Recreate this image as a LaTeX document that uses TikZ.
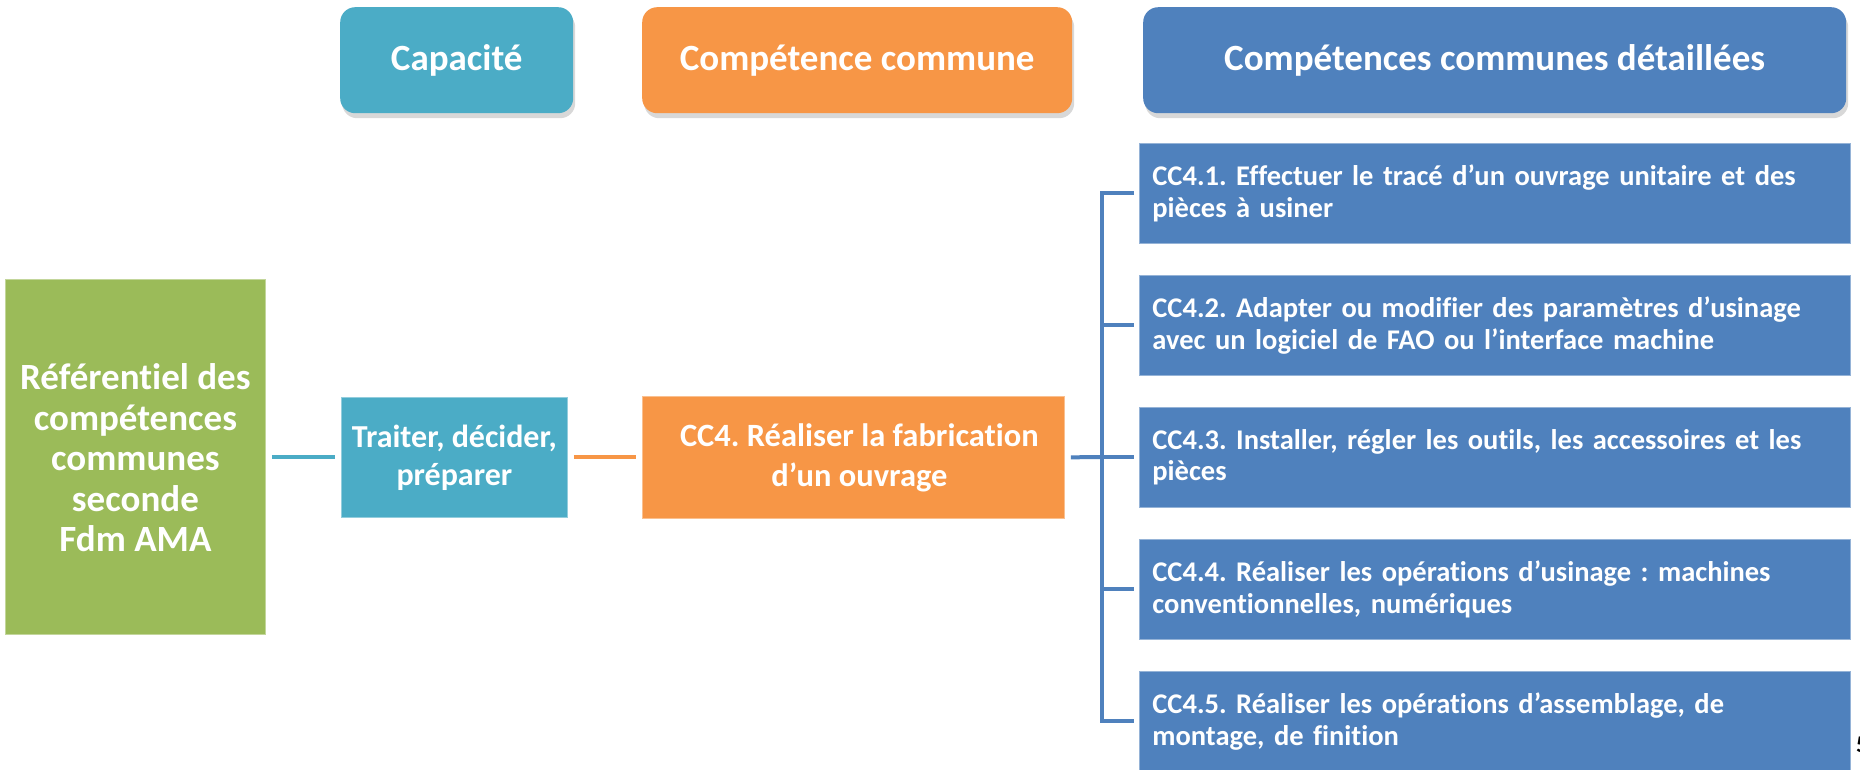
\documentclass[tikz,border=0pt]{standalone}
\usepackage{fontspec}
\setmainfont{Carlito}[Ligatures=NoCommon]
\usetikzlibrary{shadows}
\frenchspacing
\definecolor{cteal}{HTML}{4BACC6}
\definecolor{corange}{HTML}{F79646}
\definecolor{cblue}{HTML}{4F81BD}
\definecolor{cgreen}{HTML}{9BBB59}
\tikzset{
  hdr/.style={rounded corners=15pt, inner sep=0pt, anchor=north west, text=white,
    font=\fontsize{37}{46}\selectfont\bfseries,
    drop shadow={opacity=0.3, shadow xshift=2pt, shadow yshift=-5pt}},
  plainbox/.style={inner sep=0pt, anchor=north west, line width=0.8pt},
  boxtext/.style={inner sep=0pt, text=white, align=center},
  detail/.style={fill=cblue, draw=cblue!60!white, line width=0.8pt, inner xsep=13pt, inner ysep=0pt,
    anchor=north west, text=white, align=left, text width=685pt,
    minimum width=711pt, minimum height=100pt,
    font=\fontsize{28.5}{31.5}\selectfont\bfseries},
  conn/.style={line width=4pt, line cap=butt, line join=miter},
}
\begin{document}
\begin{tikzpicture}[x=1pt, y=-1pt]
\useasboundingbox (0,0) rectangle (1860,769);
\clip (0,0) rectangle (1860,769);
\fill[white] (0,0) rectangle (1860,769);

% headers
\node[hdr, fill=cteal, minimum width=233pt, minimum height=106pt] (h1) at (340,7) {Capacité};
\node[hdr, fill=corange, minimum width=430pt, minimum height=106pt] (h2) at (642,7) {Compétence commune};
\node[hdr, fill=cblue, minimum width=703pt, minimum height=106pt] (h3) at (1143,7) {Compétences communes détaillées};

% main chain
\node[plainbox, fill=cgreen, draw=cgreen!60!white, minimum width=260pt, minimum height=355pt] (ref) at (5,279) {};
\node[boxtext, font=\fontsize{37}{40.5}\selectfont\bfseries] (reftxt) at ([yshift=-1pt]ref.center)
  {Référentiel des\\compétences\\communes\\seconde\\Fdm AMA};
\node[plainbox, fill=cteal, draw=cteal!60!white, minimum width=226pt, minimum height=120pt] (cap) at (341,397) {};
\node[boxtext, font=\fontsize{32}{38}\selectfont\bfseries] (captxt) at (cap.center)
  {Traiter, décider,\\préparer};
\node[plainbox, fill=corange, draw=corange!60!white, minimum width=422pt, minimum height=122pt] (cc) at (642,396) {};
\node[boxtext, font=\fontsize{32.5}{40}\selectfont\bfseries] (cctxt) at ([xshift=6pt]cc.center)
  {CC4. Réaliser la fabrication\\d’un ouvrage};

% detailed boxes
\node[detail] (b1) at (1139,143) {CC4.1. Effectuer le tracé d’un ouvrage unitaire et des\\pièces à usiner};
\node[detail] (b2) at (1139,275) {CC4.2. Adapter ou modifier des paramètres d’usinage\\avec un logiciel de FAO ou l’interface machine};
\node[detail] (b3) at (1139,407) {CC4.3. Installer, régler les outils, les accessoires et les\\pièces};
\node[detail] (b4) at (1139,539) {CC4.4. Réaliser les opérations d’usinage : machines\\conventionnelles, numériques};
\node[detail] (b5) at (1139,671) {CC4.5. Réaliser les opérations d’assemblage, de\\montage, de finition};

% connectors
\draw[conn, cteal, shorten <=6pt, shorten >=6pt] (ref.east |- cap.west) -- (cap.west);
\draw[conn, corange, shorten <=6pt, shorten >=6pt] (cap.east) -- (cc.west);
\coordinate (bus) at (1102,457);
\draw[conn, cblue, shorten <=6pt] (cc.east) -- (bus);
\draw[conn, cblue] ([xshift=-5pt]b1.west) -- (b1.west -| bus) -- (b5.west -| bus) -- ([xshift=-5pt]b5.west);
\draw[conn, cblue] (b2.west -| bus) -- ([xshift=-5pt]b2.west);
\draw[conn, cblue] (b3.west -| bus) -- ([xshift=-5pt]b3.west);
\draw[conn, cblue] (b4.west -| bus) -- ([xshift=-5pt]b4.west);

% page number
\node[anchor=base west, inner sep=0pt, font=\fontsize{24}{28}\selectfont\bfseries] (pg) at (1856,752) {5};
\end{tikzpicture}
\end{document}
